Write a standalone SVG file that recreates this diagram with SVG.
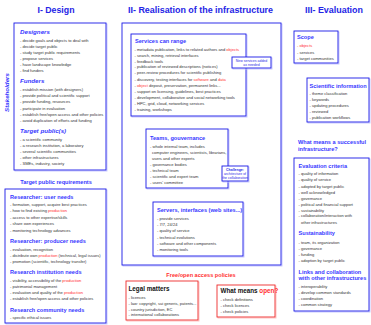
<svg xmlns="http://www.w3.org/2000/svg" width="371" height="325" viewBox="0 0 371 325">
<style>
text{font-family:"Liberation Sans",Arial,sans-serif}
.t{font-size:8.6px;font-weight:bold;fill:#2424e6}
.h{font-size:5.6px;font-weight:bold;fill:#3838ff}
.hi{font-size:6.2px;font-weight:bold;font-style:italic;fill:#3838ff}
.b{font-size:4.05px;fill:#333}
.r{fill:#ff3030}
.s{font-size:3.5px;fill:#2a2ae6;text-anchor:middle}
.bx{fill:#fff;stroke:#1a1ae6;stroke-width:0.9}
.sh{fill:none;stroke:#c4c4ff;stroke-width:0.9}
.rbx{fill:#fff;stroke:#ee2a2a;stroke-width:0.9}
.rsh{fill:none;stroke:#ffbcbc;stroke-width:0.9}
.k{font-size:6.3px;font-weight:bold;fill:#111}
</style>
<rect width="371" height="325" fill="#fff"/>
<g id="titles">
<text class="t" x="56" y="13" text-anchor="middle" textLength="37" lengthAdjust="spacingAndGlyphs">I- Design</text>
<text class="t" x="200.5" y="13" text-anchor="middle" textLength="145" lengthAdjust="spacingAndGlyphs">II- Realisation of the infrastructure</text>
<text class="t" x="334" y="13" text-anchor="middle" textLength="58" lengthAdjust="spacingAndGlyphs">III- Evaluation</text>
</g>
<g id="stakeholders-label">
<text class="hi" transform="translate(9.2,92.5) rotate(-90)" text-anchor="middle">Stakeholders</text>
</g>
<g id="stakeholders">
<rect class="sh" x="15" y="24" width="92" height="147"/>
<rect class="bx" x="14" y="23" width="92" height="147"/>
<text class="hi" x="20" y="33.8">Designers</text>
<text class="b" x="20" y="42.4">- decide goals and objects to deal with</text>
<text class="b" x="20" y="48.4">- decide target public</text>
<text class="b" x="20" y="54.4">- study target public requirements</text>
<text class="b" x="20" y="60.4">- propose services</text>
<text class="b" x="20" y="66.4">- have landscape knowledge</text>
<text class="b" x="20" y="72.4">- find funders</text>
<text class="hi" x="20" y="83.1">Funders</text>
<text class="b" x="20" y="90.9">- establish mission (with designers)</text>
<text class="b" x="20" y="97.1">- provide political and scientific support</text>
<text class="b" x="20" y="103.2">- provide funding, resources</text>
<text class="b" x="20" y="109.7">- participate in evaluation</text>
<text class="b" x="20" y="115.7">- establish free/open access and other policies</text>
<text class="b" x="20" y="121.6">- avoid duplication of efforts and funding</text>
<text class="hi" x="20" y="132.8">Target public(s)</text>
<text class="b" x="20" y="141.1">- a scientific community</text>
<text class="b" x="20" y="147.1">- a research institution, a laboratory</text>
<text class="b" x="20" y="152.9">- several scientific communities</text>
<text class="b" x="20" y="158.7">- other infrastructures</text>
<text class="b" x="20" y="164.6">- SMEs, industry, society</text>
</g>
<g id="target-public-requirements-title">
<text class="h" x="56" y="184" text-anchor="middle">Target public requirements</text>
</g>
<g id="requirements">
<rect class="sh" x="6" y="190" width="101" height="134"/>
<rect class="bx" x="5" y="189" width="101" height="134"/>
<text class="h" x="10" y="199">Researcher: user needs</text>
<text class="b" x="10" y="206.4">- formation, support, acquire best practices</text>
<text class="b" x="10" y="212.4">- how to find existing <tspan class="r">production</tspan></text>
<text class="b" x="10" y="218.7">- access to other expertise/skills</text>
<text class="b" x="10" y="225.4">- share own experiences</text>
<text class="b" x="10" y="232.1">- monitoring technology advances</text>
<text class="h" x="10" y="243.3">Researcher: producer needs</text>
<text class="b" x="10" y="250.7">- evaluation, recognition</text>
<text class="b" x="10" y="256.7">- distribute own <tspan class="r">production</tspan> (technical, legal issues)</text>
<text class="b" x="10" y="262.7">- promotion (scientific, technology transfer)</text>
<text class="h" x="10" y="274">Research institution needs</text>
<text class="b" x="10" y="281.7">- visibility, accessibility of the <tspan class="r">production</tspan></text>
<text class="b" x="10" y="287.7">- patrimonial management</text>
<text class="b" x="10" y="293.7">- evaluation and quality of the <tspan class="r">production</tspan></text>
<text class="b" x="10" y="300.1">- establish free/open access and other policies</text>
<text class="h" x="10" y="312">Research community needs</text>
<text class="b" x="10" y="319.4">- specific ethical issues</text>
</g>
<g id="infrastructure">
<rect class="sh" x="123" y="24" width="159" height="242"/>
<rect class="bx" x="122" y="23" width="159" height="242"/>
</g>
<g id="services">
<rect class="sh" x="132" y="35" width="115" height="82"/>
<rect class="bx" x="131" y="34" width="115" height="82"/>
<text class="h" x="135" y="42.6">Services can range</text>
<text class="b" x="134.5" y="51.1">- metadata publication, links to related authors and <tspan class="r">objects</tspan></text>
<text class="b" x="134.5" y="57.1">- search, mining, retrieval interfaces</text>
<text class="b" x="134.5" y="63.1">- feedback tools</text>
<text class="b" x="134.5" y="68.4">- publication of reviewed descriptions (notices)</text>
<text class="b" x="134.5" y="74.4">- peer-review procedures for scientific publishing</text>
<text class="b" x="134.5" y="80.7">- discovery, testing interfaces for <tspan class="r">software</tspan> and <tspan class="r">data</tspan></text>
<text class="b" x="134.5" y="86.7">- <tspan class="r">object</tspan> deposit, preservation, permanent links...</text>
<text class="b" x="134.5" y="92.7">- support on licensing, guidelines, best practices</text>
<text class="b" x="134.5" y="99.1">- development, collaborative and social networking tools</text>
<text class="b" x="134.5" y="105.1">- HPC, grid, cloud, networking services</text>
<text class="b" x="134.5" y="111.4">- training, workshops</text>
</g>
<g id="new-services">
<rect class="sh" x="233" y="58" width="39" height="11"/>
<rect class="bx" x="232" y="57" width="39" height="11"/>
<text class="s" x="251.5" y="61.6">New services added</text>
<text class="s" x="251.5" y="66">as needed</text>
</g>
<g id="teams">
<rect class="sh" x="147" y="130" width="82" height="59"/>
<rect class="bx" x="146" y="129" width="82" height="59"/>
<text class="h" x="150" y="140.1">Teams, gouvernance</text>
<text class="b" x="150" y="147.7">- whole internal team, includes</text>
<text class="b" x="152" y="153.7">computer engineers, scientists, librarians,</text>
<text class="b" x="152" y="159.5">users and other experts</text>
<text class="b" x="150" y="165.5">- governance bodies</text>
<text class="b" x="150" y="171.7">- technical team</text>
<text class="b" x="150" y="177.7">- scientific and expert team</text>
<text class="b" x="150" y="183.7">- users' committee</text>
</g>
<g id="challenge">
<rect class="sh" x="223" y="167" width="26" height="15"/>
<rect class="bx" x="222" y="166" width="26" height="15"/>
<text class="s" x="235" y="170.8" font-weight="bold">Challenge:</text>
<text class="s" x="235" y="174.8">architecture of</text>
<text class="s" x="235" y="178.8">the collaboration</text>
</g>
<g id="servers">
<rect class="sh" x="154" y="203" width="90" height="54"/>
<rect class="bx" x="153" y="202" width="90" height="54"/>
<text class="h" x="157" y="212">Servers, interfaces (web sites...)</text>
<text class="b" x="157" y="220.4">- provide services</text>
<text class="b" x="157" y="226.4">- 7/7, 24/24</text>
<text class="b" x="157" y="232.4">- quality of service</text>
<text class="b" x="157" y="239.1">- technical evolutions</text>
<text class="b" x="157" y="245.1">- software and other components</text>
<text class="b" x="157" y="250.7">- monitoring tools</text>
</g>
<g id="policies-title">
<text class="h r" x="201" y="277" text-anchor="middle">Free/open access policies</text>
</g>
<g id="legal">
<rect class="rsh" x="127" y="282" width="72" height="39"/>
<rect class="rbx" x="126" y="281" width="72" height="39"/>
<text class="k" x="128.5" y="290.5">Legal matters</text>
<text class="b" x="128.5" y="298.7">- licences</text>
<text class="b" x="128.5" y="304.7">- law: copyright, sui generis, patents...</text>
<text class="b" x="128.5" y="310.7">- country jurisdiction, EC</text>
<text class="b" x="128.5" y="316.4">- international collaborations</text>
</g>
<g id="open">
<rect class="rsh" x="218" y="286" width="58" height="32"/>
<rect class="rbx" x="217" y="285" width="58" height="32"/>
<text class="k" x="220.5" y="293.2">What means <tspan class="r">open?</tspan></text>
<text class="b" x="220.5" y="301.4">- check definitions</text>
<text class="b" x="220.5" y="307.1">- check licences</text>
<text class="b" x="220.5" y="313.1">- check policies</text>
</g>
<g id="scope">
<rect class="sh" x="295" y="32" width="44" height="32"/>
<rect class="bx" x="294" y="31" width="44" height="32"/>
<text class="h" x="297" y="39.3">Scope</text>
<text class="b r" x="297" y="47.4">- objects</text>
<text class="b" x="297" y="53.7">- services</text>
<text class="b" x="297" y="60.1">- target communities</text>
</g>
<g id="scientific-information">
<rect class="sh" x="308" y="79" width="62" height="44"/>
<rect class="bx" x="307" y="78" width="62" height="44"/>
<text class="h" x="309.5" y="87.5">Scientific information</text>
<text class="b" x="309.5" y="94.9">- theme classification</text>
<text class="b" x="309.5" y="100.7">- keywords</text>
<text class="b" x="309.5" y="107">- updating procedures</text>
<text class="b" x="309.5" y="113.4">- reviewed</text>
<text class="b" x="309.5" y="119.2">- publication workflows</text>
</g>
<g id="success-question">
<text class="h" x="298" y="144">What means a successful</text>
<text class="h" x="298" y="151.3">infrastructure?</text>
</g>
<g id="evaluation">
<rect class="sh" x="295" y="159" width="75" height="153"/>
<rect class="bx" x="294" y="158" width="75" height="153"/>
<text class="h" x="298.5" y="168">Evaluation criteria</text>
<text class="b" x="298.5" y="175.4">- quality of information</text>
<text class="b" x="298.5" y="181.4">- quality of service</text>
<text class="b" x="298.5" y="187.7">- adopted by target public</text>
<text class="b" x="298.5" y="193.7">- well acknowledged</text>
<text class="b" x="298.5" y="200.1">- governance</text>
<text class="b" x="298.5" y="206.1">- political and financial support</text>
<text class="b" x="298.5" y="212.1">- sustainability</text>
<text class="b" x="298.5" y="217.4">- collaboration/interaction with</text>
<text class="b" x="301" y="224.1">other infrastructures</text>
<text class="h" x="298.5" y="235.3">Sustainability</text>
<text class="b" x="298.5" y="244.1">- team, its organization</text>
<text class="b" x="298.5" y="250.1">- governance</text>
<text class="b" x="298.5" y="256.1">- funding</text>
<text class="b" x="298.5" y="262.4">- adoption by target public</text>
<text class="h" x="298.5" y="273.7">Links and collaboration</text>
<text class="h" x="298.5" y="280.3">with other infrastructures</text>
<text class="b" x="298.5" y="288.1">- interoperability</text>
<text class="b" x="298.5" y="294.1">- develop common standards</text>
<text class="b" x="298.5" y="300.1">- coordination</text>
<text class="b" x="298.5" y="306.4">- common strategy</text>
</g>
<g id="connectors"></g>
</svg>
